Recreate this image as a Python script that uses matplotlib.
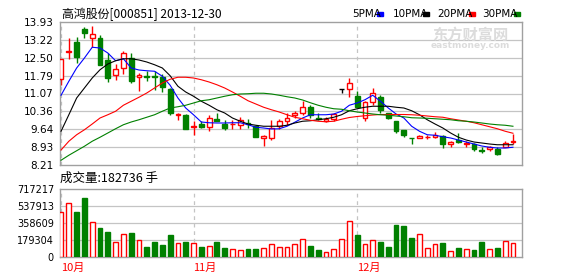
import numpy as np
import matplotlib
matplotlib.use("Agg")
import matplotlib.pyplot as plt

plt.rcParams['font.family'] = ['Noto Sans CJK SC', 'DejaVu Sans']

# daily OHLC (2013-10 .. 2013-12-30)
opens = [11.66, 12.74, 13.13, 13.65, 13.29, 13.29, 12.41, 11.80, 12.09, 12.49,
         11.75, 11.77, 11.75, 11.72, 11.26, 10.20, 10.22, 9.75, 9.85, 9.72,
         10.06, 9.85, 9.84, 9.80, 9.90, 9.77, 9.29, 9.29, 9.77, 9.98,
         10.20, 10.28, 10.52, 10.08, 9.98, 10.04, 11.24, 11.26, 10.98, 10.09,
         10.73, 10.94, 10.28, 9.96, 9.61, 9.30, 9.29, 9.33, 9.34, 9.37,
         9.05, 9.21, 9.06, 9.05, 8.79, 8.84, 8.86, 8.94, 9.14]
highs = [12.46, 13.29, 13.32, 13.72, 13.77, 13.42, 12.70, 12.25, 12.78, 12.70,
         11.90, 11.98, 11.98, 11.85, 11.29, 10.29, 10.25, 9.96, 9.96, 10.20,
         10.28, 10.01, 10.01, 10.12, 10.06, 9.82, 9.42, 10.01, 10.04, 10.28,
         10.36, 10.76, 10.60, 10.28, 10.12, 10.30, 11.24, 11.69, 11.16, 10.76,
         11.29, 11.00, 10.28, 9.96, 9.61, 9.30, 9.40, 9.42, 9.53, 9.40,
         9.16, 9.48, 9.18, 9.08, 8.94, 8.97, 8.92, 9.18, 9.45]
lows = [11.42, 12.46, 12.28, 13.29, 12.92, 12.20, 11.53, 11.61, 11.85, 11.50,
        11.16, 11.58, 11.21, 11.13, 10.22, 10.02, 9.66, 9.42, 9.69, 9.56,
        9.96, 9.61, 9.66, 9.64, 9.69, 9.34, 8.97, 9.21, 9.66, 9.82,
        10.09, 10.22, 10.09, 10.01, 9.93, 9.98, 11.08, 10.94, 10.52, 9.98,
        10.60, 10.30, 10.06, 9.48, 9.32, 9.05, 9.29, 9.26, 9.29, 8.89,
        8.92, 9.10, 8.94, 8.76, 8.70, 8.76, 8.62, 8.92, 9.05]
closes = [12.44, 12.78, 12.52, 13.48, 13.45, 12.22, 11.69, 12.04, 12.68, 11.58,
          11.80, 11.72, 11.74, 11.34, 10.30, 10.25, 9.66, 9.77, 9.74, 10.09,
          9.98, 9.69, 9.87, 10.01, 9.86, 9.34, 9.37, 9.69, 9.96, 10.09,
          10.28, 10.52, 10.20, 10.04, 10.04, 10.25, 11.24, 11.48, 10.52, 10.73,
          11.08, 10.41, 10.09, 9.58, 9.40, 9.29, 9.37, 9.35, 9.42, 9.05,
          9.13, 9.13, 9.09, 8.86, 8.78, 8.94, 8.65, 9.10, 9.16]
volumes = [479000, 574000, 471000, 619000, 373000, 302000, 260000, 155000, 239000, 250000,
           183000, 102000, 155000, 123000, 229000, 144000, 155000, 144000, 102000, 120000,
           155000, 92000, 88000, 78000, 81000, 81000, 99000, 141000, 110000, 110000,
           141000, 194000, 113000, 71000, 57000, 88000, 194000, 384000, 229000, 141000,
           183000, 155000, 102000, 334000, 324000, 197000, 239000, 99000, 141000, 144000,
           67000, 92000, 88000, 71000, 155000, 88000, 92000, 173000, 152000]

ma5 = [11.00, 11.56, 12.09, 12.49, 12.92, 12.89, 12.69, 12.38, 12.46, 12.09,
       12.01, 11.98, 11.96, 11.76, 11.40, 10.89, 10.49, 10.22, 9.93, 9.90,
       9.89, 9.89, 9.90, 9.90, 9.82, 9.72, 9.69, 9.65, 9.66, 9.76,
       9.92, 10.09, 10.22, 10.22, 10.22, 10.25, 10.36, 10.60, 10.69, 10.82,
       11.00, 10.76, 10.49, 10.25, 10.09, 9.76, 9.56, 9.42, 9.40, 9.34,
       9.29, 9.21, 9.13, 9.05, 8.97, 8.92, 8.89, 8.89, 8.92]
ma10 = [9.56, 10.22, 10.89, 11.29, 11.69, 12.02, 12.25, 12.38, 12.46, 12.46,
        12.41, 12.33, 12.22, 12.09, 11.78, 11.36, 11.13, 10.96, 10.76, 10.60,
        10.42, 10.29, 10.09, 9.96, 9.85, 9.80, 9.76, 9.76, 9.76, 9.80,
        9.89, 9.96, 9.98, 10.02, 10.06, 10.12, 10.22, 10.38, 10.46, 10.52,
        10.56, 10.56, 10.56, 10.52, 10.49, 10.38, 10.22, 10.02, 9.85, 9.69,
        9.49, 9.32, 9.21, 9.13, 9.09, 9.05, 9.02, 9.02, 9.02]
ma20 = [8.81, 9.16, 9.42, 9.62, 9.85, 10.09, 10.22, 10.36, 10.60, 10.76,
        10.92, 11.09, 11.29, 11.49, 11.64, 11.72, 11.72, 11.69, 11.62, 11.53,
        11.42, 11.29, 11.13, 10.96, 10.78, 10.65, 10.52, 10.42, 10.33, 10.22,
        10.12, 10.06, 10.00, 9.96, 9.94, 9.96, 10.04, 10.11, 10.15, 10.18,
        10.21, 10.23, 10.23, 10.23, 10.23, 10.22, 10.20, 10.17, 10.14, 10.12,
        10.06, 10.01, 9.96, 9.90, 9.82, 9.74, 9.66, 9.56, 9.48]
ma30 = [8.40, 8.60, 8.78, 8.96, 9.16, 9.32, 9.49, 9.66, 9.82, 9.93,
        10.02, 10.12, 10.22, 10.36, 10.49, 10.54, 10.60, 10.69, 10.78, 10.82,
        10.89, 10.96, 11.02, 11.05, 11.06, 11.08, 11.08, 11.05, 11.00, 10.94,
        10.89, 10.81, 10.70, 10.60, 10.52, 10.46, 10.44, 10.38, 10.33, 10.29,
        10.25, 10.22, 10.20, 10.17, 10.14, 10.10, 10.09, 10.08, 10.06, 10.04,
        10.02, 9.98, 9.96, 9.93, 9.89, 9.85, 9.82, 9.80, 9.76]

price_ticks = [8.21, 8.93, 9.64, 10.36, 11.07, 11.79, 12.50, 13.22, 13.93]
vol_ticks = [0, 179304, 358609, 537913, 717217]
month_pos = [0, 17, 38]
month_labels = ['10月', '11月', '12月']

RED = '#ff0000'
GREEN = '#008000'
GRID = '#c4c4c4'
FRAME = '#a0a0a0'

W, H = 578, 276
fig = plt.figure(figsize=(W / 100, H / 100), dpi=100)
left, right = 59.5, 522.3
ax = fig.add_axes([left / W, 1 - 165 / H, (right - left) / W, 143 / H])
axv = fig.add_axes([left / W, 1 - 257 / H, (right - left) / W, 68 / H])

o = np.array(opens)
c = np.array(closes)
x = np.arange(len(o))
xlim = (-0.2, 59.2)

for a in (ax, axv):
    a.set_xlim(*xlim)
    for s in a.spines.values():
        s.set_color(FRAME)
        s.set_linewidth(1)
    for m in month_pos:
        a.axvline(m, color='#c4c4c4', lw=0.9, dashes=(3, 3), zorder=0)
    a.tick_params(length=0, labelsize=7.5, pad=4)

# price panel
ax.set_ylim(price_ticks[0], price_ticks[-1])
ax.set_yticks(price_ticks)
ax.set_yticklabels(['%.2f' % v for v in price_ticks], family='DejaVu Sans')
ax.set_xticks([])
for v in price_ticks[1:-1]:
    ax.axhline(v, color=GRID, lw=0.9, zorder=0)

colors = np.where(c > o, RED, np.where(c < o, GREEN, 'black'))
body_lo = np.minimum(o, c)
body_h = np.maximum(np.abs(c - o), 0.012)
ax.vlines(x, lows, highs, colors=colors, lw=1, zorder=2)
faces = np.where(c < o, GREEN, 'white')
ax.bar(x, body_h, bottom=body_lo, width=0.62, color=faces, edgecolor=colors,
       linewidth=1, zorder=3)

ax.plot(x, ma5, color='#0000ff', lw=0.8, zorder=4)
ax.plot(x, ma10, color='black', lw=0.8, zorder=4)
ax.plot(x, ma20, color=RED, lw=0.8, zorder=4)
ax.plot(x, ma30, color=GREEN, lw=0.8, zorder=4)

# volume panel
axv.set_ylim(0, vol_ticks[-1])
axv.set_yticks(vol_ticks)
axv.set_yticklabels([str(v) for v in vol_ticks], family='DejaVu Sans', fontsize=7)
for v in vol_ticks[1:-1]:
    axv.axhline(v, color=GRID, lw=0.9, zorder=0)
vcol = np.where(c >= o, RED, GREEN)
vface = np.where(c >= o, 'white', GREEN)
axv.bar(x, volumes, width=0.62, color=vface, edgecolor=vcol, linewidth=1, zorder=3)
axv.set_xticks(month_pos)
axv.set_xticklabels(month_labels, color=RED, fontsize=8, ha='left')

# texts
fig.text(62 / W, 1 - 18 / H, '高鸿股份[000851] 2013-12-30', fontsize=8.6,
         va='baseline', ha='left')
fig.text(60 / W, 1 - 182 / H, '成交量:182736 手', fontsize=9,
         va='baseline', ha='left')

legend_items = [('5PMA', 352, '#0000ff', 377), ('10PMA', 393, 'black', 423),
                ('20PMA', 437, RED, 469), ('30PMA', 482, GREEN, 514)]
for label, tx, col, sx in legend_items:
    fig.text(tx / W, 1 - 17 / H, label, fontsize=7.5, family='DejaVu Sans',
             va='baseline', ha='left')
    fig.patches.append(plt.Rectangle((sx / W, 1 - 15.5 / H), 6 / W, 3 / H,
                                     transform=fig.transFigure, color=col))

# watermark
fig.text(470 / W, 1 - 35 / H, '东方财富网', fontsize=11, color='#dcdcdc',
         weight='bold', ha='center', va='center')
fig.text(470 / W, 1 - 46 / H, 'eastmoney.com', fontsize=6.5, color='#dcdcdc',
         weight='bold', ha='center', va='center', family='DejaVu Sans')

fig.savefig('out.png', dpi=100, facecolor='white')
